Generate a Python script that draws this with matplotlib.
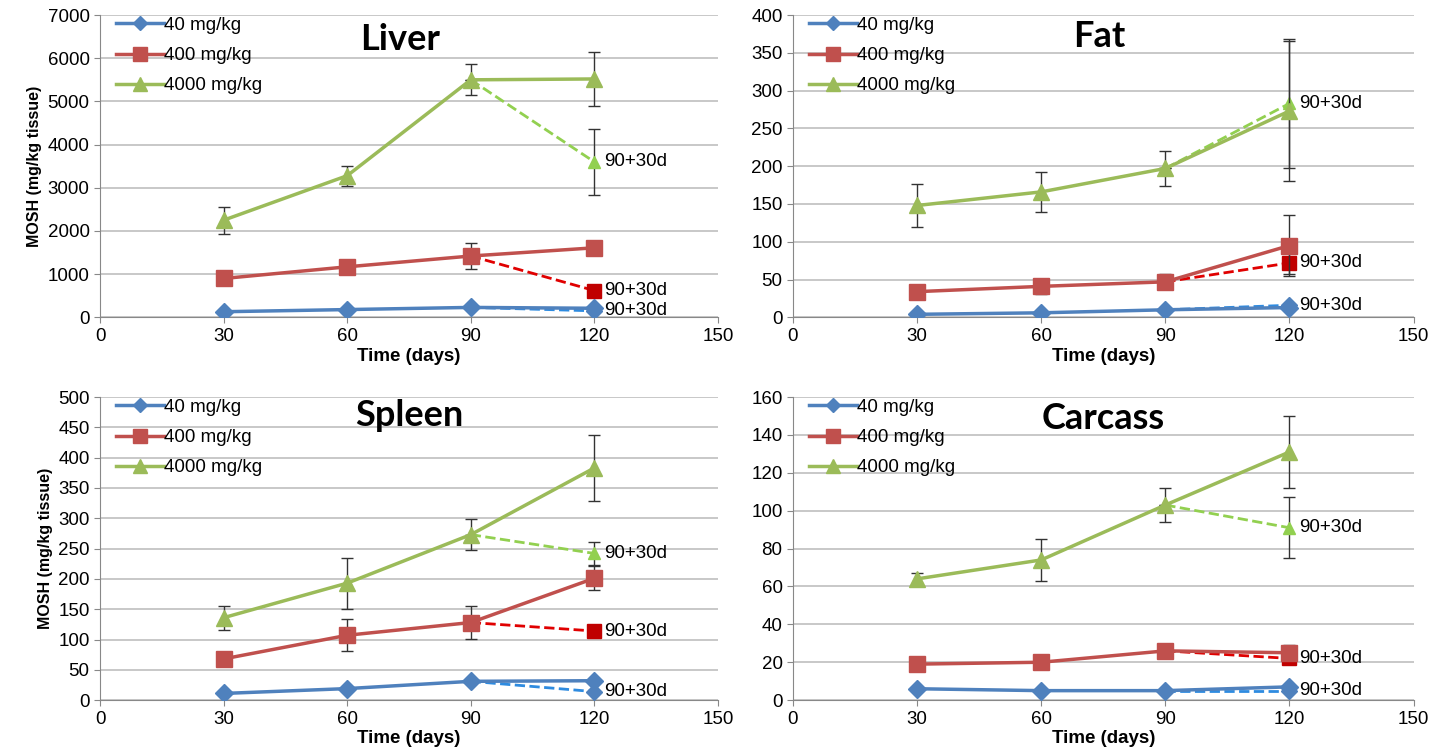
import numpy as np
import matplotlib.pyplot as plt

plt.rcParams['font.family'] = ['Liberation Sans', 'DejaVu Sans']

days = [30, 60, 90, 120]
rec_days = [90, 120]
doses = ['40 mg/kg', '400 mg/kg', '4000 mg/kg']

# main series per tissue: [40, 400, 4000]
liver_vals = [[130, 180, 230, 210], [900, 1170, 1420, 1610], [2250, 3280, 5500, 5520]]
liver_err = [[0, 0, 0, 0], [0, 0, 310, 0], [310, 235, 360, 620]]
liver_rec = [150, 620, 3600]
liver_rec_err = [0, 0, 770]

fat_vals = [[4, 6, 10, 13], [34, 41, 47, 95], [148, 166, 197, 273]]
fat_err = [[0, 0, 0, 0], [0, 10, 10, 40], [29, 26, 23, 93]]
fat_rec = [16, 72, 283]
fat_rec_err = [0, 15, 85]

spleen_vals = [[11, 19, 31, 32], [68, 107, 128, 201], [136, 193, 273, 383]]
spleen_err = [[0, 0, 0, 0], [0, 26, 27, 20], [20, 42, 26, 55]]
spleen_rec = [14, 114, 242]
spleen_rec_err = [0, 10, 19]

carcass_vals = [[6, 5, 5, 7], [19, 20, 26, 25], [64, 74, 103, 131]]
carcass_err = [[0, 0, 0, 0], [0, 0, 0, 4], [3, 11, 9, 19]]
carcass_rec = [5, 22, 91]
carcass_rec_err = [0, 0, 16]

colors = ['#4F81BD', '#C0504D', '#9BBB59']
rec_colors = ['#2E8BE0', '#E00000', '#92D050']
rec_mcolors = ['#4F81BD', '#C00000', '#92D050']
markers = ['D', 's', '^']
msizes = [9, 12, 12]
rec_msizes = [8, 10, 9]


def draw(ax, title, title_pos, vals, err, rec, rec_err, ymax, ystep, ylabel):
    ax.set_axisbelow(True)
    ax.grid(axis='y', color='#BFBFBF', linewidth=1.2)
    handles = []
    for i in range(3):
        # recovery group (dashed from 90 d to 120 d)
        ax.errorbar(rec_days, [vals[i][2], rec[i]], yerr=[0, rec_err[i]],
                    color=rec_colors[i], linestyle='--', linewidth=2,
                    marker=markers[i], markevery=[1], markersize=rec_msizes[i],
                    markerfacecolor=rec_mcolors[i], markeredgecolor=rec_mcolors[i],
                    ecolor='#333333', elinewidth=1, capsize=4, zorder=3)
        c = ax.errorbar(days, vals[i], yerr=err[i], color=colors[i], linewidth=2.5,
                        marker=markers[i], markersize=msizes[i],
                        ecolor='#333333', elinewidth=1, capsize=4, zorder=4)
        handles.append(c[0])
        ax.text(122.3, rec[i], '90+30d', fontsize=13.5, va='center', ha='left')
    ax.set_xlim(0, 150)
    ax.set_ylim(0, ymax)
    ax.set_xticks(np.arange(0, 151, 30))
    ax.set_yticks(np.arange(0, ymax + 1, ystep))
    ax.tick_params(labelsize=13.5, color='#888888', length=4)
    for s in ['top', 'right']:
        ax.spines[s].set_visible(False)
    for s in ['left', 'bottom']:
        ax.spines[s].set_color('#888888')
    ax.set_xlabel('Time (days)', fontsize=13.5, fontweight='bold', labelpad=2)
    if ylabel:
        ax.set_ylabel('MOSH (mg/kg tissue)', fontsize=11.5, fontweight='bold')
    ax.text(title_pos[0], title_pos[1], title, transform=ax.transAxes, fontsize=26,
            fontweight='bold', family=['Lato', 'DejaVu Sans'], ha='center', va='center')
    ax.legend(handles, doses, loc='upper left', frameon=False, fontsize=13.5,
              handlelength=2.6, handletextpad=0.0, borderaxespad=0.1,
              labelspacing=0.7, markerscale=0.8, bbox_to_anchor=(0.01, 1.025))


fig = plt.figure(figsize=(14.3, 7.52), dpi=100)
ax1 = fig.add_axes([0.070, 0.578, 0.432, 0.402])
ax2 = fig.add_axes([0.5545, 0.578, 0.434, 0.402])
ax3 = fig.add_axes([0.070, 0.069, 0.432, 0.403])
ax4 = fig.add_axes([0.5545, 0.069, 0.434, 0.403])

draw(ax1, 'Liver', (0.485, 0.92), liver_vals, liver_err, liver_rec, liver_rec_err, 7000, 1000, True)
draw(ax2, 'Fat', (0.494, 0.93), fat_vals, fat_err, fat_rec, fat_rec_err, 400, 50, False)
draw(ax3, 'Spleen', (0.50, 0.94), spleen_vals, spleen_err, spleen_rec, spleen_rec_err, 500, 50, True)
draw(ax4, 'Carcass', (0.50, 0.93), carcass_vals, carcass_err, carcass_rec, carcass_rec_err, 160, 20, False)

fig.savefig('out.png', dpi=100)
